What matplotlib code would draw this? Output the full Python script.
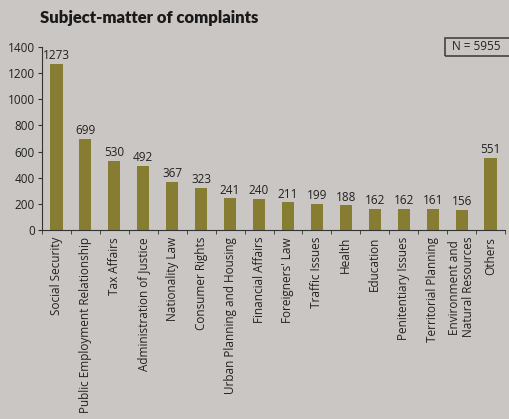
import matplotlib
matplotlib.use('Agg')
import matplotlib.pyplot as plt
from matplotlib.patches import Rectangle
import numpy as np

categories = ['Social Security', 'Public Employment Relationship', 'Tax Affairs',
              'Administration of Justice', 'Nationality Law', 'Consumer Rights',
              'Urban Planning and Housing', 'Financial Affairs', "Foreigners' Law",
              'Traffic Issues', 'Health', 'Education', 'Penitentiary Issues',
              'Territorial Planning', 'Environment and\nNatural Resources', 'Others']
values = [1273, 699, 530, 492, 367, 323, 241, 240, 211, 199, 188, 162, 162, 161, 156, 551]
yticks = [0, 200, 400, 600, 800, 1000, 1200, 1400]

bg = '#cac6c3'
bar_color = '#867d33'
txt = '#222222'

plt.rcParams['font.family'] = ['Open Sans', 'DejaVu Sans']

fig = plt.figure(figsize=(5.09, 4.19), dpi=100, facecolor=bg)
ax = fig.add_axes([42/509, 1 - 230/419, 463/509, 183/419])
ax.set_facecolor(bg)

x = np.arange(len(categories))
ax.bar(x, values, width=0.42, color=bar_color, zorder=2)

for xi, v in zip(x, values):
    ax.text(xi, v + 12, str(v), ha='center', va='bottom', fontsize=8.5, color=txt)

ax.set_xlim(-0.5, len(categories) - 0.5)
ax.set_ylim(0, 1400)
ax.set_yticks(yticks)
ax.set_yticklabels([str(t) for t in yticks], fontsize=8.5, color=txt)

# category labels at centres, tick marks at boundaries
ax.set_xticks(x)
ax.set_xticklabels(categories, rotation=90, fontsize=8.5, color=txt, va='top', ha='center',
                   linespacing=1.05)
ax.tick_params(axis='x', length=0, pad=5)
ax.set_xticks(np.arange(-0.5, len(categories), 1), minor=True)
ax.tick_params(axis='x', which='minor', length=3, direction='out', color='#333333')
ax.tick_params(axis='y', length=3, direction='out', color='#333333', pad=2)

for s in ['top', 'right']:
    ax.spines[s].set_visible(False)
ax.spines['left'].set_color('#333333')
ax.spines['bottom'].set_color('#333333')

fig.text(40/509, 1 - 18/419, 'Subject-matter of complaints', fontsize=12, fontweight='heavy',
         family=['Lato', 'DejaVu Sans'], color='#1a1a1a', va='center', ha='left')

# N box, runs off the right edge like the original
fig.patches.append(Rectangle((445/509, 1 - 56/419), 70/509, 18/419, transform=fig.transFigure,
                             facecolor='none', edgecolor='#444444', linewidth=1.2))
fig.text(452/509, 1 - 47/419, 'N = 5955', fontsize=8.5, color=txt, va='center', ha='left')

plt.savefig('out.png', dpi=100, facecolor=bg)
